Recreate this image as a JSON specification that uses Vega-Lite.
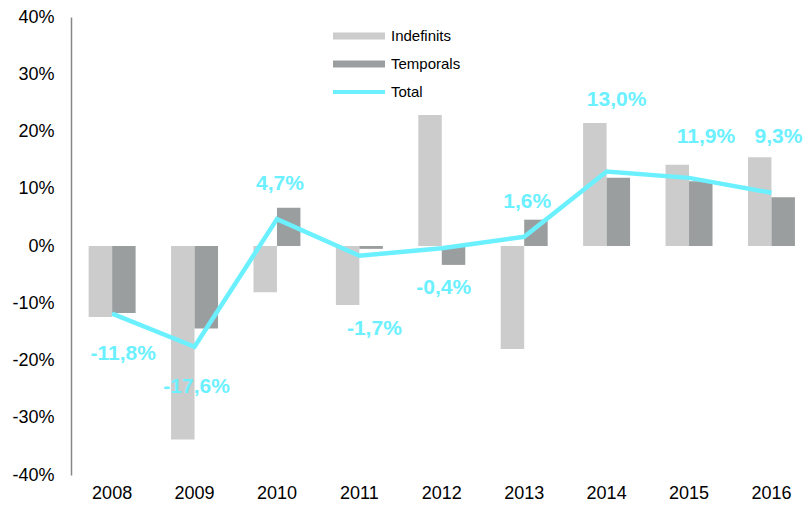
{
  "$schema": "https://vega.github.io/schema/vega-lite/v6.json",
  "width": 732,
  "height": 458,
  "autosize": {"type": "none"},
  "padding": {"left": 71, "top": 17, "right": 0, "bottom": 33},
  "background": "white",
  "config": {
    "view": {"stroke": null},
    "font": "Liberation Sans",
    "locale": {"number": {"decimal": ",", "thousands": ".", "grouping": [3], "currency": ["", " €"], "minus": "-"}}
  },
  "datasets": {
    "bars": [
      {"year": 2008, "series": "Indefinits", "value": -0.124},
      {"year": 2008, "series": "Temporals", "value": -0.117},
      {"year": 2009, "series": "Indefinits", "value": -0.338},
      {"year": 2009, "series": "Temporals", "value": -0.144},
      {"year": 2010, "series": "Indefinits", "value": -0.081},
      {"year": 2010, "series": "Temporals", "value": 0.067},
      {"year": 2011, "series": "Indefinits", "value": -0.103},
      {"year": 2011, "series": "Temporals", "value": -0.005},
      {"year": 2012, "series": "Indefinits", "value": 0.229},
      {"year": 2012, "series": "Temporals", "value": -0.033},
      {"year": 2013, "series": "Indefinits", "value": -0.180},
      {"year": 2013, "series": "Temporals", "value": 0.046},
      {"year": 2014, "series": "Indefinits", "value": 0.215},
      {"year": 2014, "series": "Temporals", "value": 0.119},
      {"year": 2015, "series": "Indefinits", "value": 0.142},
      {"year": 2015, "series": "Temporals", "value": 0.113},
      {"year": 2016, "series": "Indefinits", "value": 0.155},
      {"year": 2016, "series": "Temporals", "value": 0.085}
    ],
    "total": [
      {"year": 2008, "total": -0.118},
      {"year": 2009, "total": -0.176},
      {"year": 2010, "total": 0.047},
      {"year": 2011, "total": -0.017},
      {"year": 2012, "total": -0.004},
      {"year": 2013, "total": 0.016},
      {"year": 2014, "total": 0.130},
      {"year": 2015, "total": 0.119},
      {"year": 2016, "total": 0.093}
    ]
  },
  "encoding": {
    "x": {
      "field": "year", "type": "ordinal",
      "scale": {"paddingInner": 0.43, "paddingOuter": 0.156, "align": 0.686},
      "axis": {"title": null, "domain": false, "ticks": false, "labelAngle": 0, "labelFontSize": 18, "labelColor": "#000000", "labelPadding": 9, "labelFont": "Liberation Sans"}
    }
  },
  "layer": [
    {
      "data": {"name": "bars"},
      "mark": {"type": "bar"},
      "encoding": {
        "xOffset": {"field": "series", "type": "nominal", "scale": {"domain": ["Indefinits", "Temporals"], "paddingInner": 0, "paddingOuter": 0}},
        "y": {
          "field": "value", "type": "quantitative",
          "scale": {"domain": [-0.4, 0.4], "nice": false, "zero": false},
          "axis": {"title": null, "values": [-0.4, -0.3, -0.2, -0.1, 0, 0.1, 0.2, 0.3, 0.4], "format": ".0%", "grid": false, "ticks": false, "domain": true, "domainColor": "#868686", "domainWidth": 1.5, "labelFontSize": 18, "labelColor": "#000000", "labelPadding": 17, "labelFont": "Liberation Sans"}
        },
        "color": {
          "field": "series", "type": "nominal",
          "scale": {"domain": ["Indefinits", "Temporals", "Total"], "range": ["#CCCCCC", "#9B9E9E", "#6BF0FF"]},
          "legend": {
            "title": null, "orient": "none", "legendX": 262, "legendY": 5, "direction": "vertical",
            "symbolSize": 784, "symbolStrokeWidth": 0, "rowPadding": 6, "labelOffset": 30, "labelFontSize": 15, "labelColor": "#000000", "labelFont": "Liberation Sans", "padding": 0,
            "symbolType": "M-1,-0.25H2.714V0.25H-1Z",
            "encode": {"symbols": {"update": {"shape": [{"test": "datum.value === 'Total'", "value": "M-1,-0.15H2.714V0.15H-1Z"}, {"value": "M-1,-0.25H2.714V0.25H-1Z"}]}}}
          }
        }
      }
    },
    {
      "mark": {"type": "rule", "color": "#000000", "strokeWidth": 1},
      "encoding": {"y": {"datum": 0}}
    },
    {
      "data": {"name": "total"},
      "mark": {"type": "line", "color": "#6BF0FF", "strokeWidth": 4.5},
      "encoding": {"y": {"field": "total", "type": "quantitative"}}
    },
    {
      "data": {"name": "total"},
      "transform": [{"filter": {"field": "year", "oneOf": [2008]}}],
      "mark": {"type": "text", "color": "#6BF0FF", "fontWeight": "bold", "fontSize": 21, "dx": 11, "dy": 40},
      "encoding": {"y": {"field": "total", "type": "quantitative"}, "text": {"field": "total", "type": "quantitative", "format": ".1%"}}
    },
    {
      "data": {"name": "total"},
      "transform": [{"filter": {"field": "year", "oneOf": [2009, 2012]}}],
      "mark": {"type": "text", "color": "#6BF0FF", "fontWeight": "bold", "fontSize": 21, "dx": 2, "dy": 40},
      "encoding": {"y": {"field": "total", "type": "quantitative"}, "text": {"field": "total", "type": "quantitative", "format": ".1%"}}
    },
    {
      "data": {"name": "total"},
      "transform": [{"filter": {"field": "year", "oneOf": [2011]}}],
      "mark": {"type": "text", "color": "#6BF0FF", "fontWeight": "bold", "fontSize": 21, "dx": 15, "dy": 73},
      "encoding": {"y": {"field": "total", "type": "quantitative"}, "text": {"field": "total", "type": "quantitative", "format": ".1%"}}
    },
    {
      "data": {"name": "total"},
      "transform": [{"filter": {"field": "year", "oneOf": [2010, 2013]}}],
      "mark": {"type": "text", "color": "#6BF0FF", "fontWeight": "bold", "fontSize": 21, "dx": 3, "dy": -35},
      "encoding": {"y": {"field": "total", "type": "quantitative"}, "text": {"field": "total", "type": "quantitative", "format": ".1%"}}
    },
    {
      "data": {"name": "total"},
      "transform": [{"filter": {"field": "year", "oneOf": [2015]}}],
      "mark": {"type": "text", "color": "#6BF0FF", "fontWeight": "bold", "fontSize": 21, "dx": 17, "dy": -41},
      "encoding": {"y": {"field": "total", "type": "quantitative"}, "text": {"field": "total", "type": "quantitative", "format": ".1%"}}
    },
    {
      "data": {"name": "total"},
      "transform": [{"filter": {"field": "year", "oneOf": [2014]}}],
      "mark": {"type": "text", "color": "#6BF0FF", "fontWeight": "bold", "fontSize": 21, "dx": 10, "dy": -72},
      "encoding": {"y": {"field": "total", "type": "quantitative"}, "text": {"field": "total", "type": "quantitative", "format": ".1%"}}
    },
    {
      "data": {"name": "total"},
      "transform": [{"filter": {"field": "year", "oneOf": [2016]}}],
      "mark": {"type": "text", "color": "#6BF0FF", "fontWeight": "bold", "fontSize": 21, "dx": 7, "dy": -56},
      "encoding": {"y": {"field": "total", "type": "quantitative"}, "text": {"field": "total", "type": "quantitative", "format": ".1%"}}
    }
  ]
}
